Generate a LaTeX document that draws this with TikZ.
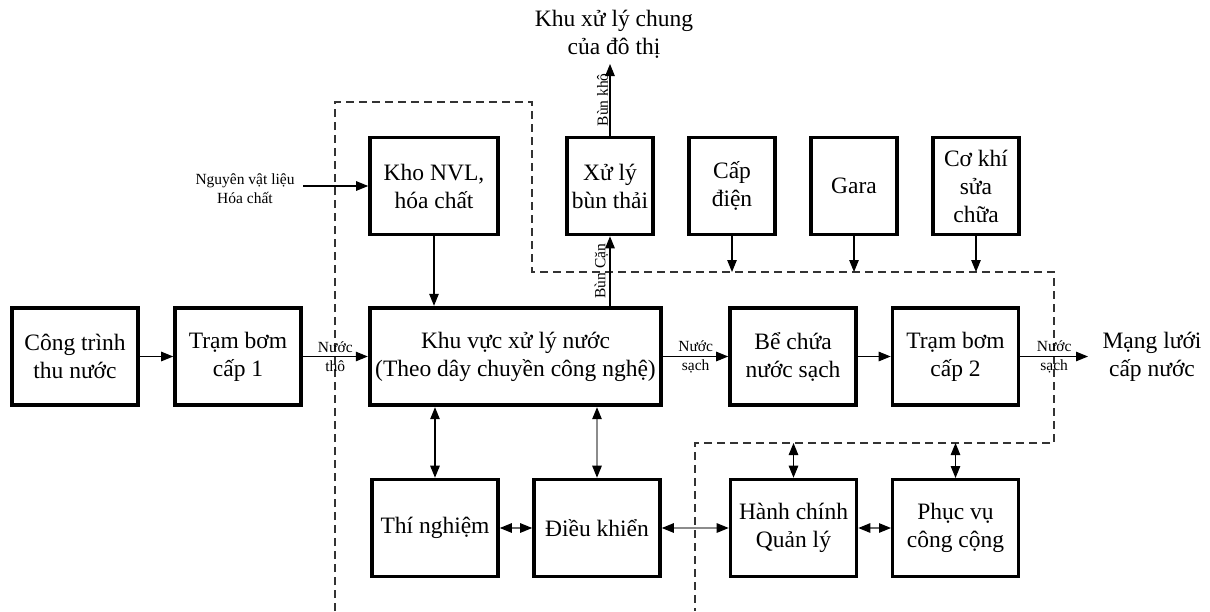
\documentclass[tikz,border=0pt]{standalone}
\usepackage{fontspec}
\setmainfont{Liberation Serif}
\usetikzlibrary{arrows.meta}
\begin{document}
\begin{tikzpicture}[x=1pt,y=-1pt,
  box/.style={draw, line width=3.6pt, align=center, inner sep=0pt,
    font=\fontsize{23.5}{28}\selectfont, minimum width=126pt, minimum height=97pt},
  smallbox/.style={box, minimum width=86pt},
  mainbox/.style={box, line width=4.4pt, minimum width=291pt},
  txt/.style={align=center, font=\fontsize{23.5}{28}\selectfont},
  lbl/.style={align=center, inner sep=1.5pt, font=\fontsize{15.5}{19}\selectfont},
  arr/.style={-{Triangle[length=12pt,width=9.5pt,color=black]}, line width=1.1pt},
  dbl/.style={{Triangle[length=12pt,width=9.5pt,color=black]}-{Triangle[length=12pt,width=9.5pt,color=black]}, line width=1.1pt},
  faint/.style={draw=black!45},
  border/.style={draw=black!80, line width=1.1pt, dash pattern=on 8pt off 5pt}
]
\useasboundingbox (0,0) rectangle (1210,611);

% main treatment line
\node[box] (ct)  at (75,356.5)    {Công trình\\thu nước};
\node[box] (tb1) at (238,356.5)   {Trạm bơm\\cấp 1};
\node[mainbox] (kv) at (515.5,356.5) {Khu vực xử lý nước\\(Theo dây chuyền công nghệ)};
\node[box] (be)  at (793,356.5)   {Bể chứa\\nước sạch};
\node[box] (tb2) at (955.5,356.5) {Trạm bơm\\cấp 2};

% upper row
\node[box, minimum width=128pt] (kho) at (434,186) {Kho NVL,\\hóa chất};
\node[smallbox] (xl)   at (610,186) {Xử lý\\bùn thải};
\node[smallbox] (cd)   at (732,186) {Cấp\\điện};
\node[smallbox] (gara) at (854,186) {Gara};
\node[smallbox] (ck)   at (976,186) {Cơ khí\\sửa\\chữa};

% lower row
\node[box] (tn) at (435,528)   {Thí nghiệm};
\node[box] (dk) at (597,528)   {Điều khiển};
\node[box] (hc) at (793.5,528) {Hành chính\\Quản lý};
\node[box, line width=3pt] (pv) at (955.5,528) {Phục vụ\\công cộng};

% outside texts
\node[txt] (kxl) at (614,34) {Khu xử lý chung\\của đô thị};
\node[txt, inner sep=0pt] (ml) at (1152,357) {Mạng lưới\\cấp nước};
\node[lbl, inner sep=0pt] (nvl) at (245,189) {Nguyên vật liệu\\Hóa chất};

% plant boundary
\coordinate (b1) at (335,611);
\coordinate (b2) at (335,102);
\coordinate (b3) at (532,102);
\coordinate (b4) at (532,272);
\coordinate (b5) at (1054,272);
\coordinate (b6) at (1054,443);
\coordinate (b7) at (695,443);
\coordinate (b8) at (695,611);
\draw[border] (b1) -- (b2) -- (b3) -- (b4) -- (b5) -- (b6) -- (b7) -- (b8);

% water flow
\draw[arr] (ct) -- (tb1);
\draw[arr] (tb1) -- node[lbl]{Nước\\thô} (kv);
\draw[arr] (kv) -- node[lbl]{Nước\\sạch} (be);
\draw[arr] (be) -- (tb2);
\coordinate (mlend) at (1088,356.5);
\draw[arr] (tb2) -- node[lbl]{Nước\\sạch} (mlend);

% materials and sludge
\coordinate (nvlout) at (303,186);
\draw[arr] (nvlout) -- (kho.west);
\draw[arr] (kho.south) -- (kho.south |- kv.north);
\draw[arr] (kv.north -| xl) -- node[lbl, rotate=90, anchor=south]{Bùn Cặn} (xl.south);
\coordinate (kxlin) at (610,64);
\draw[arr] (xl.north) -- node[lbl, rotate=90, anchor=south]{Bùn khô} (kxlin);

% services into the boundary
\draw[arr] (cd.south) -- (cd.south |- b4);
\draw[arr] (gara.south) -- (gara.south |- b4);
\draw[arr] (ck.south) -- (ck.south |- b4);
\draw[dbl] (hc.north) -- (hc.north |- b7);
\draw[dbl] (pv.north) -- (pv.north |- b7);

% links between control buildings
\draw[dbl] (tn.north) -- (tn.north |- kv.south);
\draw[dbl, faint] (dk.north) -- (dk.north |- kv.south);
\draw[dbl, draw=black!60] (tn) -- (dk);
\draw[dbl, faint] (dk) -- (hc);
\draw[dbl, draw=black!60] (hc) -- (pv);
\end{tikzpicture}
\end{document}
